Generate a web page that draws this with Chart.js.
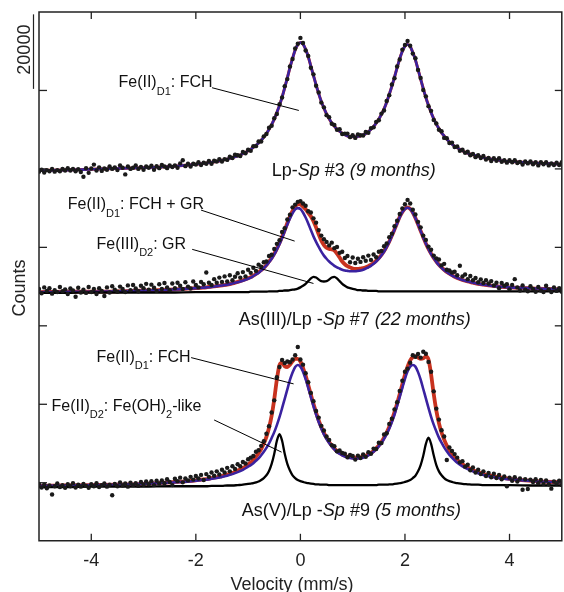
<!DOCTYPE html>
<html>
<head>
<meta charset="utf-8">
<script src="https://cdn.jsdelivr.net/npm/chart.js"></script>
<style>
html,body{margin:0;padding:0;background:#fff;}
canvas{display:block;}
</style>
</head>
<body>
<canvas id="c" width="564" height="592"></canvas>
<script>
// ---------- data ----------
const X_TICKS = [-4, -2, 0, 2, 4];
const Y_TICKS = [0, 20, 40, 60, 80, 100];           // kcounts
const SCALE_BAR = [100.4, 119.4];                   // the "20000" bar
const VEL = [-5,-4.95,-4.9,-4.85,-4.8,-4.75,-4.7,-4.65,-4.6,-4.55,
-4.5,-4.45,-4.4,-4.35,-4.3,-4.25,-4.2,-4.15,-4.1,-4.05,
-4,-3.95,-3.9,-3.85,-3.8,-3.75,-3.7,-3.65,-3.6,-3.55,
-3.5,-3.45,-3.4,-3.35,-3.3,-3.25,-3.2,-3.15,-3.1,-3.05,
-3,-2.95,-2.9,-2.85,-2.8,-2.75,-2.7,-2.65,-2.6,-2.55,
-2.5,-2.45,-2.4,-2.35,-2.3,-2.25,-2.2,-2.15,-2.1,-2.05,
-2,-1.95,-1.9,-1.85,-1.8,-1.75,-1.7,-1.65,-1.6,-1.55,
-1.5,-1.45,-1.4,-1.35,-1.3,-1.25,-1.2,-1.15,-1.1,-1.05,
-1,-0.95,-0.9,-0.85,-0.8,-0.75,-0.7,-0.65,-0.6,-0.55,
-0.5,-0.45,-0.4,-0.35,-0.3,-0.25,-0.2,-0.15,-0.1,-0.05,
0,0.05,0.1,0.15,0.2,0.25,0.3,0.35,0.4,0.45,
0.5,0.55,0.6,0.65,0.7,0.75,0.8,0.85,0.9,0.95,
1,1.05,1.1,1.15,1.2,1.25,1.3,1.35,1.4,1.45,
1.5,1.55,1.6,1.65,1.7,1.75,1.8,1.85,1.9,1.95,
2,2.05,2.1,2.15,2.2,2.25,2.3,2.35,2.4,2.45,
2.5,2.55,2.6,2.65,2.7,2.75,2.8,2.85,2.9,2.95,
3,3.05,3.1,3.15,3.2,3.25,3.3,3.35,3.4,3.45,
3.5,3.55,3.6,3.65,3.7,3.75,3.8,3.85,3.9,3.95,
4,4.05,4.1,4.15,4.2,4.25,4.3,4.35,4.4,4.45,
4.5,4.55,4.6,4.65,4.7,4.75,4.8,4.85,4.9,4.95,
5];

// measured counts (kcounts, offset per spectrum) : Lp-Sp #3
const DATA1 = [79.3,79.8,79.1,79.7,79.4,80.0,79.3,79.7,79.4,80.0,
79.6,80.2,79.6,80.0,79.4,79.9,79.2,78.0,80.2,79.0,
80.1,81.1,79.6,80.4,79.5,80.1,79.8,80.6,80.0,80.4,
79.7,80.9,80.3,78.6,80.6,80.0,80.3,80.9,80.0,80.5,
79.8,80.6,80.3,80.8,79.8,80.7,80.2,81.0,80.6,80.2,
80.9,80.5,80.9,80.3,81.4,82.2,80.7,81.3,80.6,81.3,
81.1,81.7,81.0,81.6,81.3,82.0,81.3,82.1,81.9,82.5,
81.9,82.5,82.3,83.1,82.8,83.6,83.5,83.3,84.3,84.0,
84.9,84.6,85.8,85.8,87.0,87.0,88.3,88.9,90.5,91.0,
92.9,94.0,96.5,98.2,101.1,102.9,106.1,108.0,110.7,111.9,
113.4,112.1,110.2,108.8,105.8,104.1,101.2,99.5,96.9,95.7,
93.7,93.2,91.5,91.2,90.0,90.1,88.9,89.0,89.0,88.1,
88.6,87.9,88.8,88.6,88.5,89.4,89.2,90.4,90.6,92.0,
92.4,94.1,94.9,97.3,98.8,101.5,103.1,106.1,107.9,110.4,
111.6,112.6,111.4,109.4,108.2,105.2,103.2,100.1,98.5,96.0,
94.8,92.5,91.6,90.0,89.6,87.9,87.8,86.6,86.7,85.6,
85.7,84.6,84.9,84.1,84.4,83.5,83.8,83.0,83.5,82.8,
83.3,82.4,82.8,82.0,82.7,82.1,82.7,81.8,82.2,81.6,
82.2,81.7,82.2,81.5,81.8,81.1,81.9,81.4,81.9,81.2,
81.7,80.9,81.7,81.2,81.7,80.9,81.4,81.0,81.6,81.0,
81.7];

// As(III)/Lp-Sp #7
const DATA2 = [49.4,48.3,49.8,48.9,49.6,48.2,49.1,48.6,49.9,48.8,
49.3,48.1,49.5,49.0,47.4,49.7,48.5,49.2,48.4,49.9,
48.6,49.4,48.1,49.6,48.9,47.6,49.8,48.5,50.1,49.2,
48.7,50.0,49.4,48.6,50.3,49.1,50.4,49.5,48.8,50.2,
49.6,50.7,49.2,50.5,49.7,48.9,50.6,49.4,50.9,49.8,
49.1,50.8,49.6,51.0,50.2,49.4,51.1,50.0,49.5,51.3,
50.4,49.8,51.2,50.6,53.6,51.0,50.4,51.9,51.0,52.3,
51.2,52.6,51.3,52.9,51.6,52.5,53.4,52.3,53.7,52.6,
54.3,53.5,54.8,54.0,55.6,55.1,56.2,56.4,57.8,58.1,
59.6,60.9,61.8,63.9,64.9,67.1,68.3,70.2,70.9,71.6,
71.8,71.2,70.6,69.2,68.9,67.4,66.3,64.4,63.0,62.1,
61.4,60.5,61.2,59.8,60.1,58.6,58.9,57.3,57.8,56.2,
57.4,56.0,57.1,56.3,57.5,56.6,57.9,56.8,58.2,57.5,
58.9,59.1,60.3,61.0,62.6,63.5,65.4,66.8,68.5,69.9,
71.0,72.1,71.2,69.6,68.4,66.5,65.1,63.0,61.9,60.2,
59.4,57.9,57.2,56.9,55.4,55.8,54.3,54.1,53.6,53.8,
52.9,55.3,52.6,53.1,51.9,52.7,51.6,52.2,51.1,51.8,
50.9,51.6,50.8,51.4,50.3,51.0,49.6,50.9,50.2,50.6,
49.3,50.4,51.9,49.8,49.0,50.3,49.2,48.8,50.1,49.4,
48.7,49.9,49.0,48.6,50.2,49.3,48.6,49.8,48.9,49.6,
48.7];

// As(V)/Lp-Sp #9
const DATA3 = [-0.3,-1.2,-0.5,-1.4,-0.7,-3.0,-0.9,-0.2,-1.1,-0.6,
-1.3,-0.4,-0.9,-0.1,-1.2,-0.5,-1.0,-0.3,-0.8,-1.3,
-0.4,-0.9,-0.1,-1.1,-0.6,-0.2,-1.0,-0.5,-3.2,-0.3,
-0.9,0.1,-0.7,-0.2,-1.0,0.0,-0.6,-0.1,-0.8,0.2,
-0.5,0.3,-0.4,0.4,-0.6,0.5,-0.2,0.6,-0.1,0.9,
0.2,-0.6,1.0,0.4,1.3,0.1,1.1,0.6,1.5,0.8,
1.7,1.1,2.0,0.7,2.2,1.5,2.6,1.8,2.9,2.1,
3.3,2.6,3.8,2.9,4.2,3.5,4.7,4.2,5.3,4.9,
6.0,6.4,6.8,7.9,8.3,9.4,10.6,12.5,14.4,17.9,
21.0,26.9,29.5,31.3,30.5,30.9,30.7,31.4,32.5,34.6,
31.4,30.1,27.9,25.6,22.9,20.8,18.3,16.6,14.5,13.3,
11.8,10.9,9.6,9.3,8.0,8.2,7.6,7.4,6.5,7.1,
6.8,5.9,6.9,6.3,7.2,6.6,7.8,7.4,8.7,8.6,
10.2,10.1,12.3,12.6,15.0,16.3,18.7,20.5,23.4,26.0,
28.3,29.1,30.6,32.5,32.1,32.8,31.9,33.4,32.9,30.8,
28.3,23.3,18.9,16.1,13.4,11.8,5.8,9.0,8.1,7.3,
6.4,5.2,5.5,4.1,4.6,3.2,3.9,2.6,3.3,2.2,
2.9,1.7,2.5,1.4,2.3,1.2,2.0,0.9,1.6,-0.9,
1.3,0.5,1.4,0.3,1.1,-1.8,0.9,-1.6,0.8,0.2,
0.9,-0.1,0.7,-0.3,0.6,-0.4,-1.5,0.3,-0.2,0.5,
-0.6];

// fitted curves, sampled on FV
const FV = [-5,-4.5,-4,-3.5,-3,-2.5,-2,-1.9,-1.8,-1.7,-1.6,-1.5,-1.4,-1.3,-1.2,-1.1,
-1,-0.95,-0.9,-0.85,-0.8,-0.75,-0.7,-0.65,-0.6,-0.55,
-0.5,-0.45,-0.4,-0.35,-0.3,-0.25,-0.2,-0.15,-0.1,-0.05,
0,0.05,0.1,0.15,0.2,0.25,0.3,0.35,0.4,0.45,
0.5,0.55,0.6,0.65,0.7,0.75,0.8,0.85,0.9,0.95,
1,1.05,1.1,1.15,1.2,1.25,1.3,1.35,1.4,1.45,
1.5,1.55,1.6,1.65,1.7,1.75,1.8,1.85,1.9,1.95,
2,2.05,2.1,2.15,2.2,2.25,2.3,2.35,2.4,2.45,
2.5,2.55,2.6,2.65,2.7,2.75,2.8,2.85,2.9,2.95,
3,
3.1,3.2,3.3,3.4,3.5,3.6,3.7,3.8,3.9,4,4.5,5];

const FIT1 = [79.6,79.7,79.9,80.1,80.3,80.6,81.2,81.3,81.5,81.7,81.9,82.2,82.5,82.9,83.3,83.9,
84.6,85.0,85.5,86.0,86.6,87.3,88.1,89.0,90.1,91.3,
92.7,94.4,96.2,98.3,100.7,103.2,105.8,108.2,110.3,111.7,
112.2,111.8,110.5,108.6,106.2,103.8,101.4,99.2,97.2,95.5,
94.0,92.8,91.7,90.9,90.1,89.6,89.1,88.7,88.4,88.3,
88.2,88.2,88.3,88.4,88.7,89.0,89.5,90.1,90.8,91.7,
92.7,93.9,95.3,97.0,99.0,101.1,103.4,105.8,108.1,110.0,
111.3,111.7,111.2,109.7,107.8,105.4,102.9,100.5,98.2,96.2,
94.4,92.8,91.4,90.3,89.2,88.4,87.6,86.9,86.3,85.8,
85.4,
84.6,84.0,83.6,83.2,82.9,82.6,82.4,82.2,82.0,81.9,81.5,81.2];

const FIT2 = [48.6,48.7,48.7,48.8,49.0,49.2,49.6,49.7,49.8,50.0,50.1,50.3,50.5,50.8,51.2,51.6,
52.1,52.4,52.8,53.2,53.7,54.2,54.8,55.5,56.4,57.3,
58.4,59.7,61.1,62.7,64.4,66.2,67.9,69.3,70.4,71.0,
70.9,70.4,69.7,68.8,67.9,66.7,65.1,63.3,61.7,60.6,
59.9,59.6,59.5,59.2,58.4,57.4,56.4,55.7,55.2,54.9,
54.6,54.5,54.5,54.6,54.7,54.9,55.2,55.6,56.0,56.6,
57.3,58.1,59.1,60.2,61.5,63.0,64.6,66.2,67.8,69.0,
69.9,70.2,69.8,68.9,67.5,65.9,64.2,62.6,61.0,59.6,
58.4,57.3,56.4,55.6,54.9,54.3,53.7,53.3,52.9,52.5,
52.2,
51.7,51.3,51.0,50.7,50.5,50.3,50.2,50.0,49.9,49.8,49.5,49.3];

const COMP2_D1 = [48.6,48.7,48.7,48.8,49.0,49.2,49.6,49.7,49.8,49.9,50.1,50.3,50.5,50.8,51.1,51.5,
52.0,52.3,52.7,53.1,53.5,54.1,54.7,55.4,56.2,57.1,
58.2,59.5,60.8,62.4,64.1,65.8,67.4,68.7,69.7,70.0,
69.8,68.9,67.6,66.1,64.4,62.8,61.4,60.1,58.9,57.9,
57.1,56.4,55.8,55.3,54.9,54.6,54.3,54.1,54.0,53.9,
53.9,53.9,54.0,54.1,54.3,54.6,54.9,55.3,55.8,56.4,
57.1,58.0,58.9,60.1,61.4,62.9,64.5,66.1,67.7,69.0,
69.8,70.1,69.8,68.8,67.5,65.9,64.2,62.5,61.0,59.6,
58.3,57.3,56.3,55.5,54.8,54.2,53.7,53.2,52.8,52.5,
52.2,
51.7,51.3,51.0,50.7,50.5,50.3,50.1,50.0,49.9,49.8,49.5,49.3];

const COMP2_D2 = [48.4,48.4,48.5,48.5,48.5,48.5,48.6,48.6,48.6,48.6,48.6,48.6,48.6,48.6,48.6,48.6,
48.6,48.7,48.7,48.7,48.7,48.7,48.7,48.7,48.8,48.8,
48.8,48.8,48.9,48.9,49.0,49.0,49.1,49.2,49.3,49.5,
49.8,50.2,50.7,51.4,52.1,52.5,52.3,51.8,51.4,51.3,
51.4,51.8,52.3,52.5,52.1,51.4,50.7,50.2,49.8,49.6,
49.4,49.3,49.1,49.1,49.0,49.0,48.9,48.9,48.9,48.9,
48.8,48.8,48.8,48.8,48.8,48.8,48.8,48.8,48.8,48.8,
48.8,48.8,48.8,48.8,48.8,48.8,48.8,48.8,48.8,48.8,
48.8,48.8,48.8,48.8,48.8,48.8,48.8,48.8,48.8,48.8,
48.8,
48.8,48.8,48.8,48.8,48.8,48.8,48.8,48.8,48.8,48.8,48.8,48.8];

const FIT3 = [-0.8,-0.7,-0.6,-0.5,-0.3,0.1,0.6,0.8,0.9,1.2,1.4,1.7,2.1,2.5,3.1,3.7,
4.7,5.2,5.8,6.6,7.5,8.6,10.0,11.7,14.0,17.1,
21.3,26.3,30.0,30.6,29.7,29.5,30.1,31.0,31.6,31.6,
30.9,29.3,27.3,24.9,22.5,20.1,17.9,15.9,14.2,12.7,
11.5,10.4,9.5,8.7,8.1,7.6,7.2,6.9,6.7,6.5,
6.4,6.4,6.4,6.5,6.7,6.9,7.2,7.6,8.1,8.8,
9.5,10.4,11.5,12.8,14.3,16.0,18.0,20.2,22.6,25.1,
27.5,29.6,31.2,32.0,32.2,31.9,31.6,31.7,32.2,31.4,
27.6,22.6,18.4,15.2,12.8,11.0,9.5,8.3,7.4,6.5,
5.8,
4.7,3.9,3.2,2.7,2.2,1.9,1.6,1.4,1.2,1.0,0.4,0.1];

const COMP3_D1 = [-0.8,-0.7,-0.6,-0.5,-0.3,0.0,0.5,0.7,0.8,1.0,1.2,1.5,1.8,2.2,2.7,3.3,
4.1,4.5,5.0,5.6,6.2,7.0,7.9,8.9,10.0,11.4,
12.9,14.7,16.7,19.0,21.4,23.8,26.2,28.1,29.5,30.0,
29.6,28.3,26.4,24.2,21.8,19.5,17.4,15.5,13.8,12.3,
11.1,10.1,9.2,8.5,7.8,7.4,7.0,6.7,6.4,6.3,
6.2,6.1,6.2,6.3,6.4,6.7,7.0,7.4,7.9,8.5,
9.3,10.1,11.2,12.4,13.8,15.5,17.4,19.6,21.9,24.2,
26.5,28.4,29.6,30.0,29.6,28.2,26.3,23.9,21.5,19.1,
16.8,14.8,13.1,11.5,10.2,9.0,8.0,7.1,6.4,5.7,
5.1,
4.2,3.5,2.9,2.4,2.0,1.7,1.4,1.2,1.0,0.9,0.4,0.1];

const COMP3_D2 = [-1.1,-1.1,-1.0,-1.0,-1.0,-0.9,-0.9,-0.9,-0.9,-0.8,-0.8,-0.8,-0.7,-0.7,-0.6,-0.5,
-0.3,-0.2,-0.1,0.1,0.3,0.7,1.2,1.9,3.0,4.8,
7.4,10.7,12.4,10.7,7.4,4.8,3.1,1.9,1.2,0.7,
0.4,0.2,0.0,-0.1,-0.2,-0.3,-0.4,-0.4,-0.5,-0.5,
-0.5,-0.6,-0.6,-0.6,-0.6,-0.6,-0.6,-0.6,-0.6,-0.6,
-0.6,-0.6,-0.6,-0.6,-0.6,-0.6,-0.6,-0.6,-0.6,-0.6,
-0.5,-0.5,-0.5,-0.5,-0.4,-0.4,-0.3,-0.2,-0.1,0.0,
0.2,0.4,0.7,1.2,1.8,2.9,4.5,6.9,9.9,11.5,
9.9,7.0,4.5,2.9,1.9,1.2,0.7,0.4,0.2,0.0,
-0.1,
-0.3,-0.4,-0.5,-0.5,-0.6,-0.6,-0.6,-0.6,-0.6,-0.6,-0.7,-0.7];

// ---------- texts ----------
const SAMPLE_LABELS = [
  [['Lp-','n'],['Sp','i'],[' #3 ','n'],['(9 months)','i']],
  [['As(III)/Lp -','n'],['Sp','i'],[' #7 ','n'],['(22 months)','i']],
  [['As(V)/Lp -','n'],['Sp','i'],[' #9 ','n'],['(5 months)','i']]
];
const COMPONENT_LABELS = [
  [['Fe(II)','n'],['D1','s'],[': FCH','n']],
  [['Fe(II)','n'],['D1','s'],[': FCH + GR','n']],
  [['Fe(III)','n'],['D2','s'],[': GR','n']],
  [['Fe(II)','n'],['D1','s'],[': FCH','n']],
  [['Fe(II)','n'],['D2','s'],[': Fe(OH)','n'],['2','s'],['-like','n']]
];

// ---------- layout (data coordinates of text anchors) ----------
const SAMPLE_AT = [[-0.55, 78.1], [-1.18, 40.1], [-1.12, -8.5]];
const COMP_AT = [[-3.48, 100.8], [-4.45, 69.7], [-3.90, 59.7], [-3.90, 30.9], [-4.76, 18.3]];
const LEADERS = [
  [[-1.69, 100.7], [-0.03, 94.9]],
  [[-1.90, 69.5], [-0.11, 61.6]],
  [[-2.07, 59.5], [0.25, 50.8]],
  [[-2.09, 31.9], [-0.13, 25.2]],
  [[-1.65, 16.0], [-0.36, 7.8]]
];

const FONT = '"Liberation Sans", Arial, Helvetica, sans-serif';
const RED = '#c8321f', BLUE = '#3a22a0', INK = '#1a1a1a';

const pts = (xs, ys) => xs.map((v, i) => ({x: v, y: ys[i]}));
const dots = ys => ({data: pts(VEL, ys), showLine: false, pointRadius: 2.2, pointHoverRadius: 0,
  pointBackgroundColor: INK, pointBorderWidth: 0, borderColor: INK});
const curve = (ys, color, w) => ({data: pts(FV, ys), borderColor: color, borderWidth: w,
  pointRadius: 0, fill: false, cubicInterpolationMode: 'monotone'});

function rich(ctx, parts, x, y, size) {
  let cx = x;
  for (const [t, st] of parts) {
    const sub = st === 's';
    const fs = sub ? Math.round(size * 0.69) : size;
    ctx.font = (st === 'i' ? 'italic ' : '') + fs + 'px ' + FONT;
    ctx.fillText(t, cx, y + (sub ? size * 0.45 : 0));
    cx += ctx.measureText(t).width;
  }
  return cx;
}

const decor = {
  id: 'decor',
  afterDatasetsDraw(chart) {
    const {ctx, chartArea: a, scales: {x, y}} = chart;
    const ln = (x1, y1, x2, y2) => { ctx.beginPath(); ctx.moveTo(x1, y1); ctx.lineTo(x2, y2); ctx.stroke(); };
    ctx.save();
    ctx.strokeStyle = '#222';
    ctx.lineWidth = 1.5;
    ctx.beginPath();
    ctx.moveTo(a.left, a.bottom); ctx.lineTo(a.left, a.top); ctx.lineTo(a.right, a.top);
    ctx.lineTo(a.right, a.bottom); ctx.closePath(); ctx.stroke();
    ctx.lineWidth = 1.3;
    x.ticks.forEach(t => {
      const px = x.getPixelForValue(t.value);
      ln(px, a.top, px, a.top + 7); ln(px, a.bottom, px, a.bottom - 7);
    });
    Y_TICKS.forEach(v => {
      const py = y.getPixelForValue(v);
      ln(a.left, py, a.left + 8, py); ln(a.right, py, a.right - 7, py);
    });
    // scale bar
    const b0 = y.getPixelForValue(SCALE_BAR[0]), b1 = y.getPixelForValue(SCALE_BAR[1]);
    ctx.lineWidth = 1.2;
    ln(33.5, b0, 33.5, b1);
    ctx.fillStyle = '#222';
    ctx.font = '18px ' + FONT;
    ctx.textAlign = 'center'; ctx.textBaseline = 'alphabetic';
    ctx.save(); ctx.translate(29.5, (b0 + b1) / 2 - 2); ctx.rotate(-Math.PI / 2); ctx.fillText('20000', 0, 0); ctx.restore();
    // y title
    ctx.save(); ctx.translate(25, 288); ctx.rotate(-Math.PI / 2); ctx.fillText('Counts', 0, 0); ctx.restore();
    // x title
    ctx.fillText('Velocity (mm/s)', 292, 590);
    // annotations
    ctx.textAlign = 'left';
    ctx.fillStyle = '#111';
    SAMPLE_LABELS.forEach((p, i) => rich(ctx, p, x.getPixelForValue(SAMPLE_AT[i][0]), y.getPixelForValue(SAMPLE_AT[i][1]), 18));
    COMPONENT_LABELS.forEach((p, i) => rich(ctx, p, x.getPixelForValue(COMP_AT[i][0]), y.getPixelForValue(COMP_AT[i][1]), 16));
    ctx.strokeStyle = '#000'; ctx.lineWidth = 1;
    LEADERS.forEach(([p, q]) => ln(x.getPixelForValue(p[0]), y.getPixelForValue(p[1]), x.getPixelForValue(q[0]), y.getPixelForValue(q[1])));
    ctx.restore();
  }
};

new Chart(document.getElementById('c'), {
  type: 'line',
  data: {
    datasets: [
      dots(DATA1), dots(DATA2), dots(DATA3),
      curve(COMP2_D2, '#000', 2.3), curve(COMP3_D2, '#000', 2.3),
      curve(FIT1, BLUE, 2.6), curve(COMP2_D1, BLUE, 2.6), curve(COMP3_D1, BLUE, 2.6),
      curve(FIT1, RED, 3.0), curve(FIT2, RED, 3.8), curve(FIT3, RED, 3.8)
    ]
  },
  options: {
    responsive: false,
    devicePixelRatio: 1,
    animation: false,
    layout: {padding: {left: 39, top: 12, right: 0, bottom: 11.2}},
    plugins: {legend: {display: false}, tooltip: {enabled: false}},
    events: [],
    scales: {
      x: {
        type: 'linear', min: -5, max: 5,
        afterBuildTicks: s => { s.ticks = X_TICKS.map(v => ({value: v})); },
        grid: {display: false, drawTicks: false},
        border: {display: false},
        ticks: {padding: 9.2, color: '#222', font: {size: 18, family: FONT}, maxRotation: 0}
      },
      y: {type: 'linear', min: -14.8, max: 120, display: false}
    }
  },
  plugins: [decor]
});
</script>
</body>
</html>
